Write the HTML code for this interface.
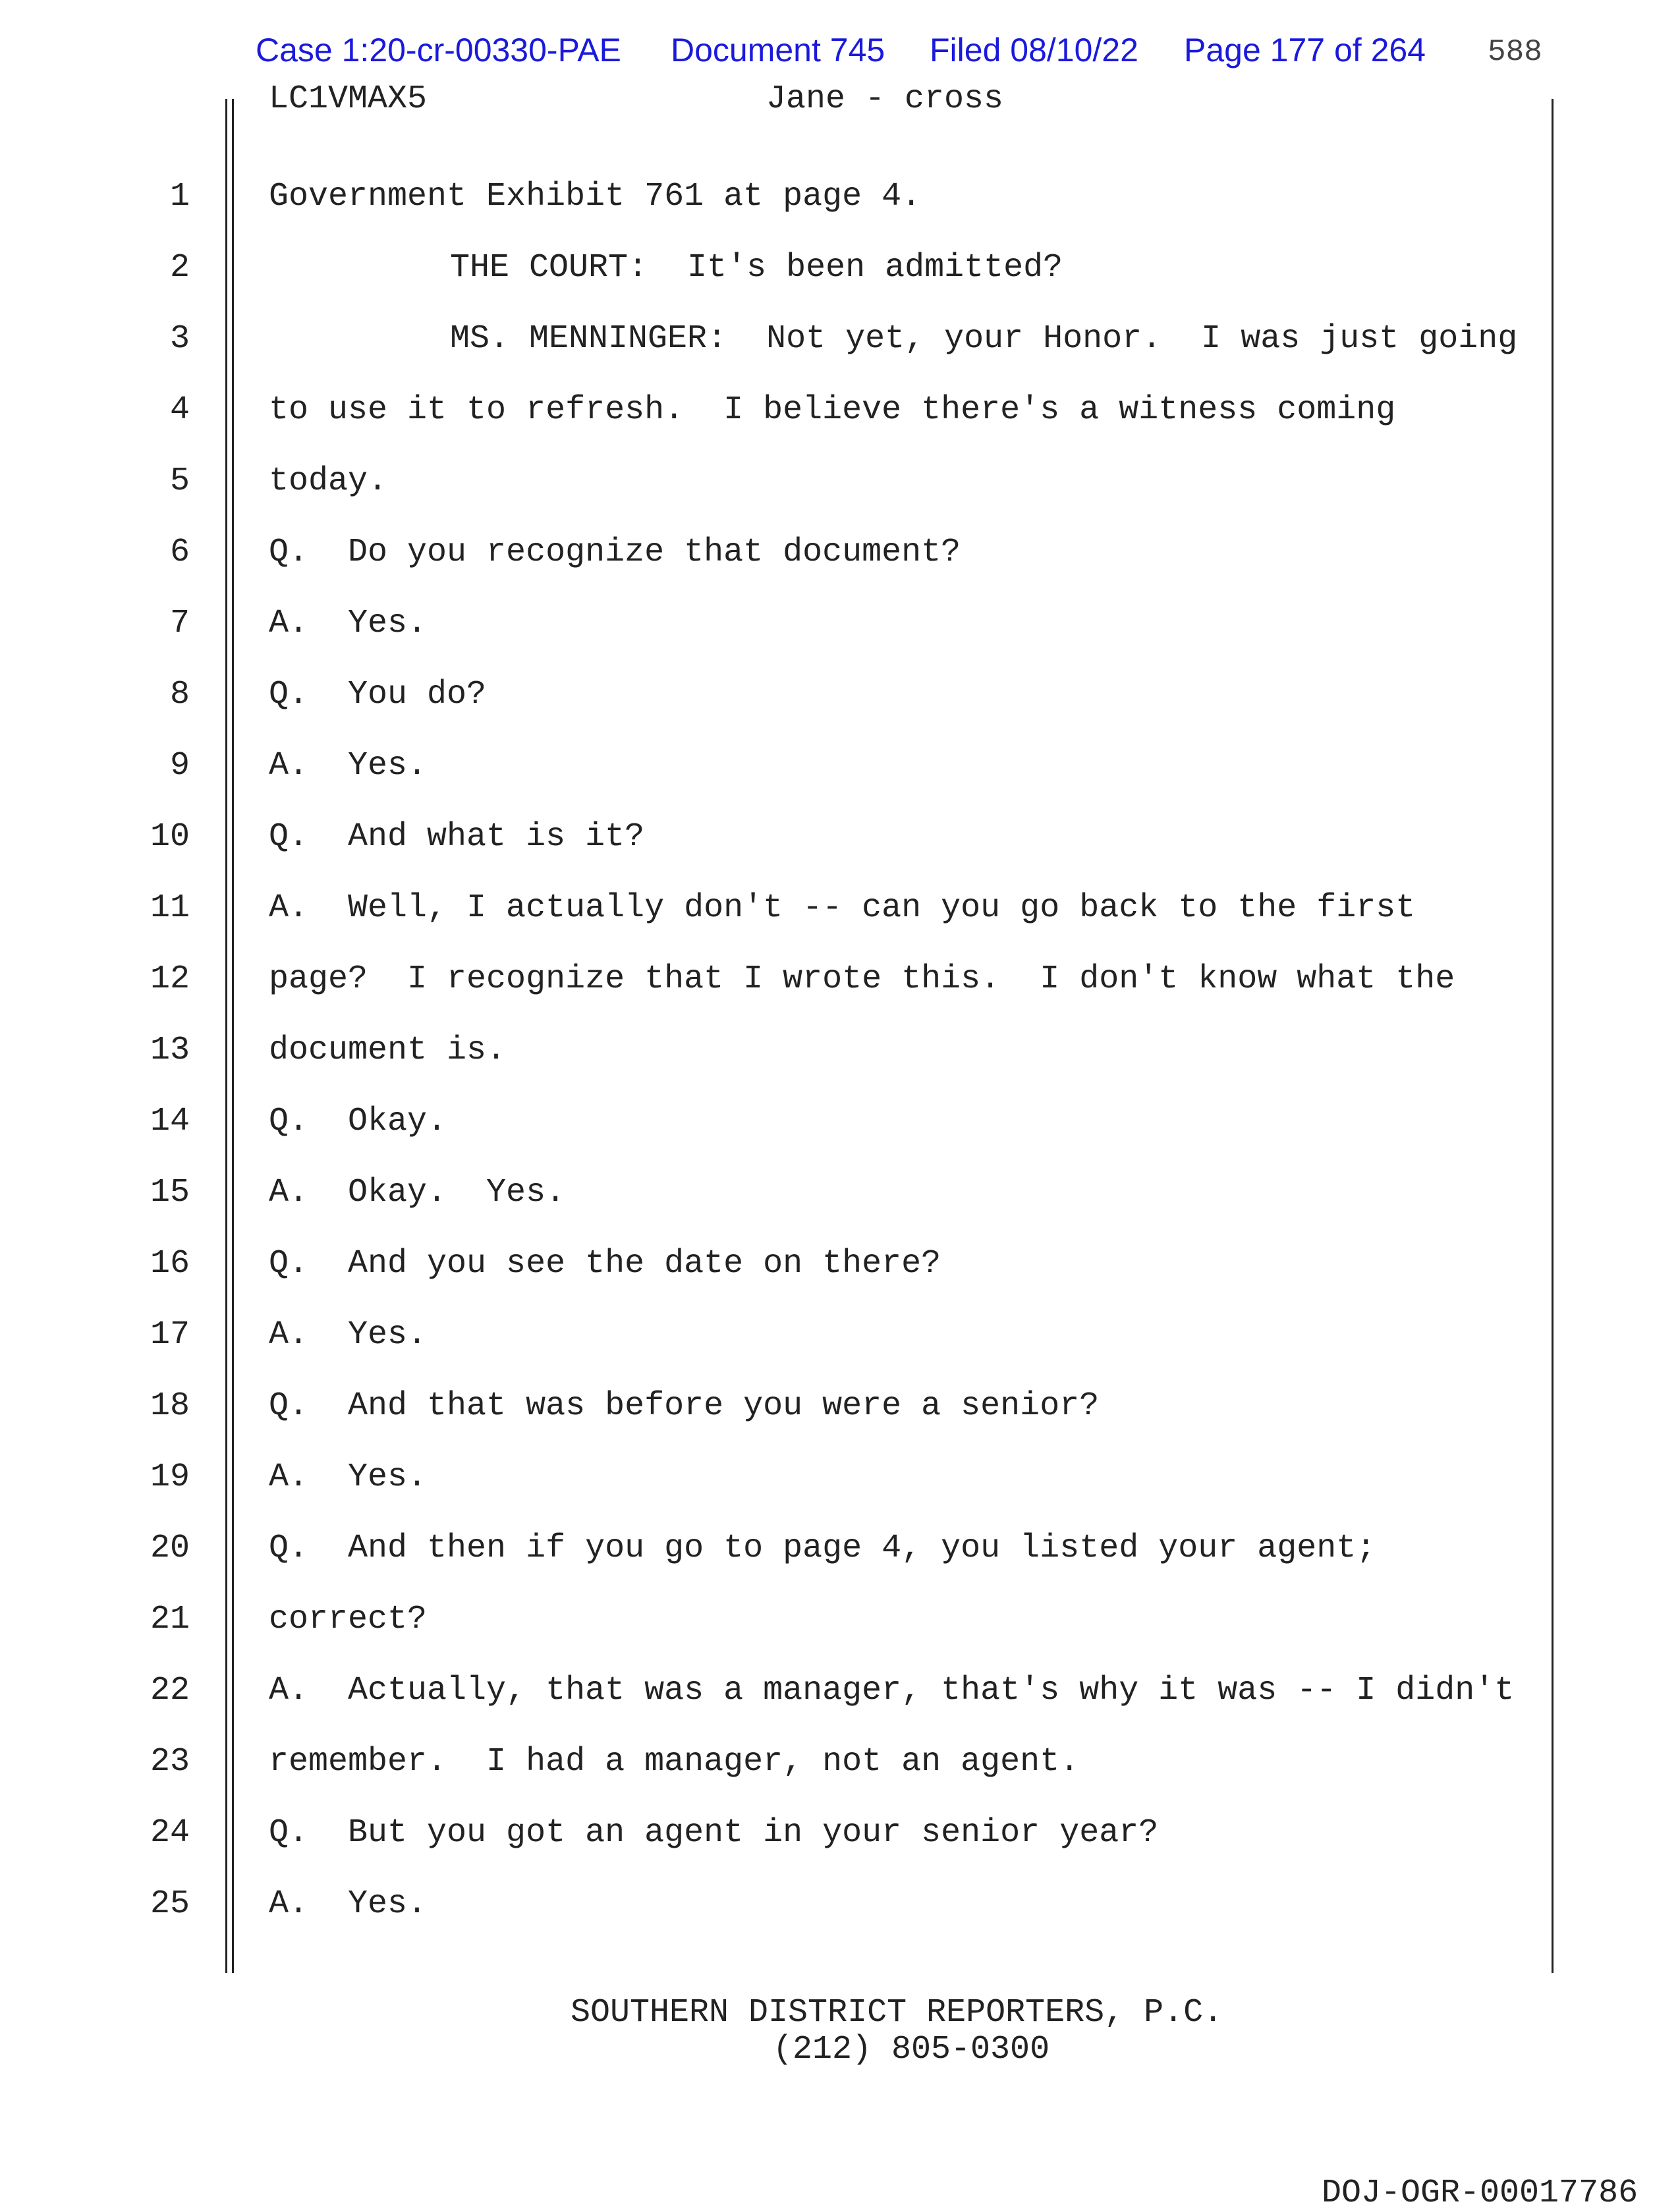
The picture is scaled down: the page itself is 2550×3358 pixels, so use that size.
<!DOCTYPE html>
<html><head><meta charset="utf-8"><style>
html,body{margin:0;padding:0;background:#fff;}
body{width:2550px;height:3357px;position:relative;overflow:hidden;}
.m{position:absolute;font-family:"Liberation Mono",monospace;font-size:50px;color:#222;white-space:pre;line-height:1;}
.b{position:absolute;font-family:"Liberation Sans",sans-serif;font-size:50px;color:#1a1adc;white-space:pre;line-height:1;}
.n{position:absolute;font-family:"Liberation Mono",monospace;font-size:50px;color:#222;width:120px;text-align:right;left:168px;line-height:1;}
.v{position:absolute;background:#222;width:3px;}
</style></head><body>
<div class="b" style="left:388px;top:51px;">Case 1:20-cr-00330-PAE</div>
<div class="b" style="left:1018px;top:51px;">Document 745</div>
<div class="b" style="left:1411px;top:51px;">Filed 08/10/22</div>
<div class="b" style="left:1797px;top:51px;">Page 177 of 264</div>
<div class="m" style="left:2258px;top:56px;font-size:46px;color:#444;">588</div>
<div class="v" style="left:342px;top:150px;height:2845px;"></div>
<div class="v" style="left:352px;top:150px;height:2845px;"></div>
<div class="v" style="left:2355px;top:150px;height:2845px;"></div>
<div class="m" style="left:408px;top:126px;">LC1VMAX5</div>
<div class="m" style="left:1163px;top:126px;">Jane - cross</div>
<div class="m" style="left:866px;top:3031px;">SOUTHERN DISTRICT REPORTERS, P.C.</div>
<div class="m" style="left:1173px;top:3087px;">(212) 805-0300</div>
<div class="m" style="left:2006px;top:3305px;">DOJ-OGR-00017786</div>
<div class="n" style="top:274px">1</div><div class="m" style="left:408px;top:274px">Government Exhibit 761 at page 4.</div>
<div class="n" style="top:382px">2</div><div class="m" style="left:683px;top:382px">THE COURT:  It's been admitted?</div>
<div class="n" style="top:490px">3</div><div class="m" style="left:683px;top:490px">MS. MENNINGER:  Not yet, your Honor.  I was just going</div>
<div class="n" style="top:598px">4</div><div class="m" style="left:408px;top:598px">to use it to refresh.  I believe there's a witness coming</div>
<div class="n" style="top:706px">5</div><div class="m" style="left:408px;top:706px">today.</div>
<div class="n" style="top:814px">6</div><div class="m" style="left:408px;top:814px">Q.  Do you recognize that document?</div>
<div class="n" style="top:922px">7</div><div class="m" style="left:408px;top:922px">A.  Yes.</div>
<div class="n" style="top:1030px">8</div><div class="m" style="left:408px;top:1030px">Q.  You do?</div>
<div class="n" style="top:1138px">9</div><div class="m" style="left:408px;top:1138px">A.  Yes.</div>
<div class="n" style="top:1246px">10</div><div class="m" style="left:408px;top:1246px">Q.  And what is it?</div>
<div class="n" style="top:1354px">11</div><div class="m" style="left:408px;top:1354px">A.  Well, I actually don't -- can you go back to the first</div>
<div class="n" style="top:1462px">12</div><div class="m" style="left:408px;top:1462px">page?  I recognize that I wrote this.  I don't know what the</div>
<div class="n" style="top:1570px">13</div><div class="m" style="left:408px;top:1570px">document is.</div>
<div class="n" style="top:1678px">14</div><div class="m" style="left:408px;top:1678px">Q.  Okay.</div>
<div class="n" style="top:1786px">15</div><div class="m" style="left:408px;top:1786px">A.  Okay.  Yes.</div>
<div class="n" style="top:1894px">16</div><div class="m" style="left:408px;top:1894px">Q.  And you see the date on there?</div>
<div class="n" style="top:2002px">17</div><div class="m" style="left:408px;top:2002px">A.  Yes.</div>
<div class="n" style="top:2110px">18</div><div class="m" style="left:408px;top:2110px">Q.  And that was before you were a senior?</div>
<div class="n" style="top:2218px">19</div><div class="m" style="left:408px;top:2218px">A.  Yes.</div>
<div class="n" style="top:2326px">20</div><div class="m" style="left:408px;top:2326px">Q.  And then if you go to page 4, you listed your agent;</div>
<div class="n" style="top:2434px">21</div><div class="m" style="left:408px;top:2434px">correct?</div>
<div class="n" style="top:2542px">22</div><div class="m" style="left:408px;top:2542px">A.  Actually, that was a manager, that's why it was -- I didn't</div>
<div class="n" style="top:2650px">23</div><div class="m" style="left:408px;top:2650px">remember.  I had a manager, not an agent.</div>
<div class="n" style="top:2758px">24</div><div class="m" style="left:408px;top:2758px">Q.  But you got an agent in your senior year?</div>
<div class="n" style="top:2866px">25</div><div class="m" style="left:408px;top:2866px">A.  Yes.</div>
</body></html>
